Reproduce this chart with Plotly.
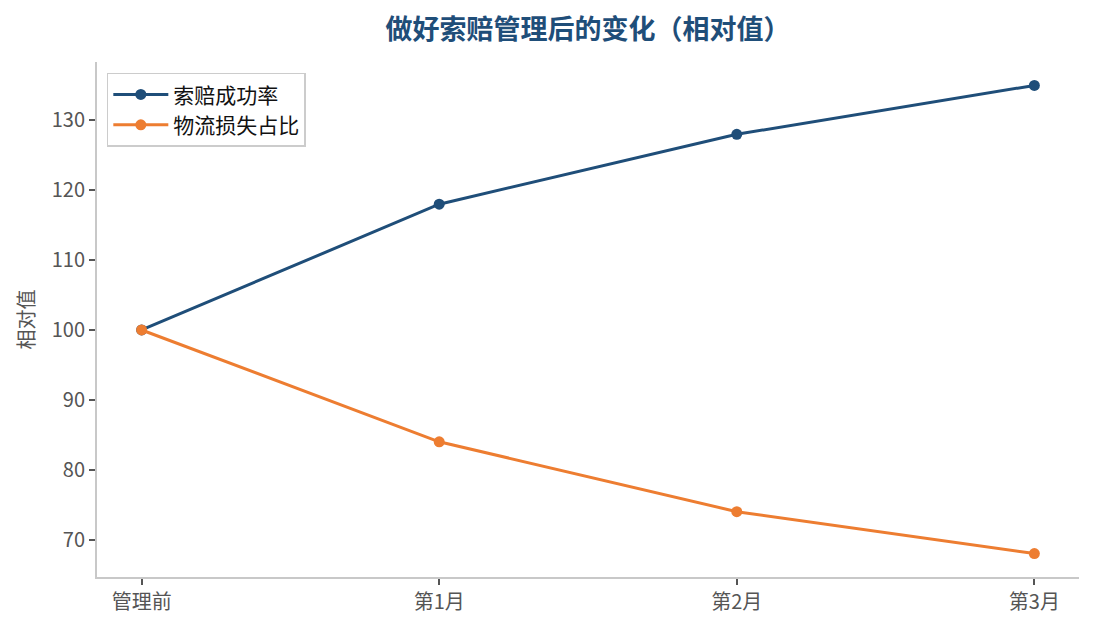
import plotly.graph_objects as go

# data
stages = ["管理前", "第1月", "第2月", "第3月"]
claim_success = [100, 118, 128, 135]
logistics_loss = [100, 84, 74, 68]

FONT = "Noto Sans CJK SC"

fig = go.Figure()

fig.add_trace(go.Scatter(
    x=stages, y=claim_success, mode="lines+markers", name="索赔成功率",
    line=dict(color="#1f4e79", width=3), marker=dict(size=11, color="#1f4e79")
))
fig.add_trace(go.Scatter(
    x=stages, y=logistics_loss, mode="lines+markers", name="物流损失占比",
    line=dict(color="#ed7d31", width=3), marker=dict(size=11, color="#ed7d31")
))

fig.update_layout(
    width=1095, height=630,
    paper_bgcolor="white", plot_bgcolor="white",
    font=dict(family=FONT, color="#555555", size=20),
    title=dict(text="<b>做好索赔管理后的变化（相对值）</b>", x=0.5, xref="paper", xanchor="center",
               y=1 - 22 / 630, yanchor="middle",
               font=dict(family=FONT, size=27, color="#1f4e79")),
    margin=dict(l=89, r=24, t=54, b=61, autoexpand=False),
    showlegend=True,
    legend=dict(x=0.01, y=0.979, xanchor="left", yanchor="top",
                bgcolor="white", bordercolor="#cccccc", borderwidth=1.5,
                font=dict(family=FONT, size=21, color="#111111"),
                itemwidth=55),
    xaxis=dict(
        type="category", range=[-0.15, 3.15],
        showline=True, linecolor="#c8c8c8", linewidth=2,
        ticks="outside", ticklen=6, tickwidth=2, tickcolor="#555555",
        showgrid=False, zeroline=False,
        tickfont=dict(family=FONT, size=20, color="#555555")
    ),
    yaxis=dict(
        range=[64.65, 138.35], tickvals=[70, 80, 90, 100, 110, 120, 130],
        showline=True, linecolor="#c8c8c8", linewidth=2,
        ticks="outside", ticklen=6, tickwidth=2, tickcolor="#555555",
        showgrid=False, zeroline=False,
        title=dict(text="相对值", standoff=12, font=dict(family=FONT, size=20, color="#555555")),
        tickfont=dict(family=FONT, size=20, color="#555555")
    ),
)

fig.write_html("out.html")
